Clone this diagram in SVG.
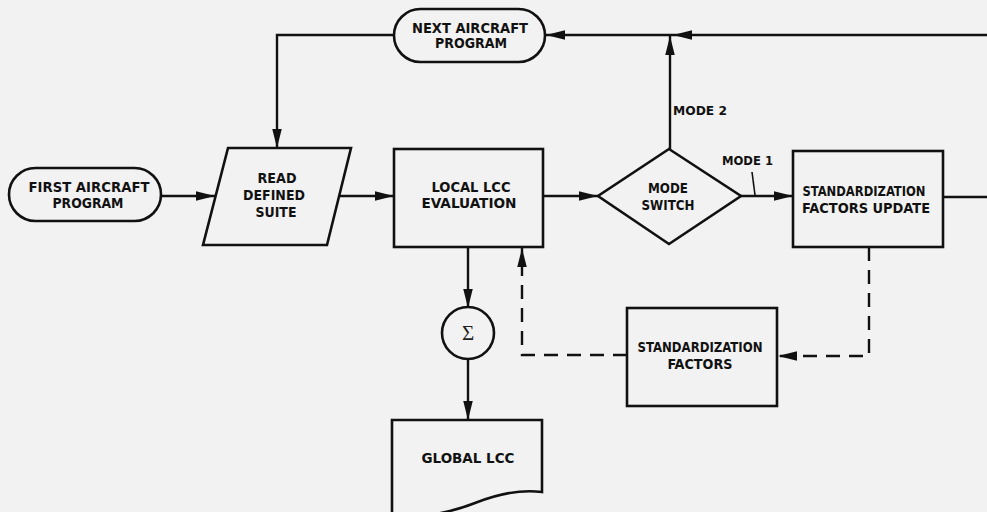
<svg xmlns="http://www.w3.org/2000/svg" width="987" height="512" viewBox="0 0 987 512">
<style>
.shape{fill:none;stroke:#111;stroke-width:2.6}
.line{fill:none;stroke:#111;stroke-width:2.4}
.dash{fill:none;stroke:#111;stroke-width:2.4;stroke-dasharray:14 9}
.t{font-family:"DejaVu Sans Condensed","Liberation Sans",sans-serif;font-weight:bold;font-size:14.5px;fill:#111;text-anchor:middle}
.s{font-family:"DejaVu Sans Condensed","Liberation Sans",sans-serif;font-weight:bold;font-size:12.5px;fill:#111}
.sig{font-family:"Liberation Serif","DejaVu Serif",serif;font-size:21px;fill:#222;text-anchor:middle}
</style>
<defs>
<marker id="ah" viewBox="0 0 20 10" refX="20" refY="5" markerWidth="19" markerHeight="10" markerUnits="userSpaceOnUse" orient="auto">
<path d="M0,0 L20,5 L0,10 z" fill="#111" stroke="none"/>
</marker>
</defs>
<rect width="987" height="512" fill="#f2f2f2"/>
<g id="connectors">
<line class="line" x1="161" y1="196" x2="215" y2="196" marker-end="url(#ah)"/>
<line class="line" x1="339" y1="196" x2="394" y2="196" marker-end="url(#ah)"/>
<line class="line" x1="543" y1="196" x2="598" y2="196" marker-end="url(#ah)"/>
<line class="line" x1="741" y1="196" x2="793" y2="196" marker-end="url(#ah)"/>
<line class="line" x1="943" y1="197" x2="987" y2="197"/>
<line class="line" x1="987" y1="35" x2="673" y2="35" marker-end="url(#ah)"/>
<line class="line" x1="673" y1="35" x2="546" y2="35" marker-end="url(#ah)"/>
<line class="line" x1="670" y1="149" x2="670" y2="36" marker-end="url(#ah)"/>
<path class="line" d="M394,35 H277 V148" marker-end="url(#ah)"/>
<line class="line" x1="468" y1="247" x2="468" y2="308" marker-end="url(#ah)"/>
<line class="line" x1="468" y1="359" x2="468" y2="420" marker-end="url(#ah)"/>
<path class="dash" d="M627,355 H522 V248" marker-end="url(#ah)"/>
<path class="dash" d="M869,247 V356 H778" marker-end="url(#ah)"/>
<line x1="752" y1="172" x2="755" y2="195" stroke="#111" stroke-width="1.6"/>
<text class="s" x="673" y="115" textLength="54" lengthAdjust="spacingAndGlyphs">MODE 2</text>
<text class="s" x="722" y="165" textLength="51" lengthAdjust="spacingAndGlyphs">MODE 1</text>
</g>
<g id="first-aircraft">
<rect class="shape" x="9" y="168" width="152" height="53" rx="26.5"/>
<text class="t" x="89" y="192" textLength="121" lengthAdjust="spacingAndGlyphs">FIRST AIRCRAFT</text>
<text class="t" x="88" y="208" textLength="71" lengthAdjust="spacingAndGlyphs">PROGRAM</text>
</g>
<g id="read-suite">
<polygon class="shape" points="228,148 351,148 327,245 203,245"/>
<text class="t" x="277" y="183" textLength="39" lengthAdjust="spacingAndGlyphs">READ</text>
<text class="t" x="274" y="200" textLength="62" lengthAdjust="spacingAndGlyphs">DEFINED</text>
<text class="t" x="276" y="217" textLength="41" lengthAdjust="spacingAndGlyphs">SUITE</text>
</g>
<g id="next-aircraft">
<rect class="shape" x="394" y="9" width="151" height="53" rx="26.5"/>
<text class="t" x="470" y="33" textLength="116" lengthAdjust="spacingAndGlyphs">NEXT AIRCRAFT</text>
<text class="t" x="471" y="48" textLength="72" lengthAdjust="spacingAndGlyphs">PROGRAM</text>
</g>
<g id="local-lcc">
<rect class="shape" x="394" y="149" width="149" height="98"/>
<text class="t" x="471" y="192" textLength="79" lengthAdjust="spacingAndGlyphs">LOCAL LCC</text>
<text class="t" x="469" y="208" textLength="95" lengthAdjust="spacingAndGlyphs">EVALUATION</text>
</g>
<g id="mode-switch">
<polygon class="shape" points="669,149 741,196 669,244 598,196"/>
<text class="t" x="668" y="193" textLength="40" lengthAdjust="spacingAndGlyphs">MODE</text>
<text class="t" x="668" y="210" textLength="53" lengthAdjust="spacingAndGlyphs">SWITCH</text>
</g>
<g id="sf-update">
<rect class="shape" x="793" y="151" width="150" height="96"/>
<text class="t" x="864" y="196" textLength="123" lengthAdjust="spacingAndGlyphs">STANDARDIZATION</text>
<text class="t" x="866" y="213" textLength="128" lengthAdjust="spacingAndGlyphs">FACTORS UPDATE</text>
</g>
<g id="sf">
<rect class="shape" x="627" y="308" width="150" height="98"/>
<text class="t" x="700" y="352" textLength="125" lengthAdjust="spacingAndGlyphs">STANDARDIZATION</text>
<text class="t" x="700" y="369" textLength="65" lengthAdjust="spacingAndGlyphs">FACTORS</text>
</g>
<g id="sum">
<circle class="shape" cx="468" cy="333" r="26"/>
<text class="sig" x="468" y="340">Σ</text>
</g>
<g id="global-lcc">
<path class="shape" d="M392,420 H542 V492 C520,489 498,494 475,503 C455,511 430,516 405,518 L392,518 Z"/>
<text class="t" x="468" y="463" textLength="93" lengthAdjust="spacingAndGlyphs">GLOBAL LCC</text>
</g>
</svg>
